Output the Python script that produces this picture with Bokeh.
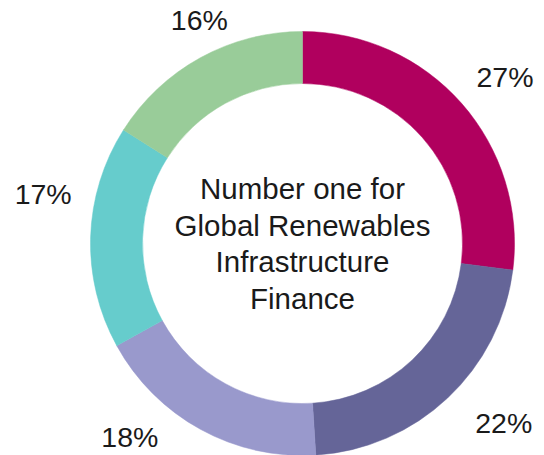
import math
from bokeh.plotting import figure
from bokeh.models import ColumnDataSource, Range1d
from bokeh.core.properties import value
from bokeh.embed import file_html
from bokeh.resources import INLINE

# ---- data ----
shares = [27, 22, 18, 17, 16]
labels = ["27%", "22%", "18%", "17%", "16%"]
colors = ["#B0005E", "#656598", "#9999CC", "#66CCCC", "#99CC99"]
center_text = "Number one for\nGlobal Renewables\nInfrastructure\nFinance"

# ---- layout (units = screen pixels, donut centre at 0,0) ----
R_OUT, R_IN = 212, 160
LABEL_R = 262
label_nudge_deg = [2, -5, 13, 9, 4]   # angular nudge of labels from slice middle
label_r_adj = [0, 8, -3, 2, -16]

W, H = 540, 455
CX, CY = 302, 243          # donut centre in screen pixels
x_range = Range1d(-CX, W - CX)
y_range = Range1d(CY - H, CY)

total = float(sum(shares))
starts, ends, lx, ly = [], [], [], []
cum = 0.0
for i, v in enumerate(shares):
    c0 = cum / total
    cum += v
    c1 = cum / total
    starts.append(math.pi / 2 - 2 * math.pi * c1)
    ends.append(math.pi / 2 - 2 * math.pi * c0)
    mid_deg = 360 * (c0 + c1) / 2 + label_nudge_deg[i]   # clockwise from top
    r = LABEL_R + label_r_adj[i]
    lx.append(r * math.sin(math.radians(mid_deg)))
    ly.append(r * math.cos(math.radians(mid_deg)))

src = ColumnDataSource(dict(start=starts, end=ends, color=colors,
                            lx=lx, ly=ly, label=labels))

p = figure(width=W, height=H, x_range=x_range, y_range=y_range,
           output_backend="svg", toolbar_location=None, min_border=0)
p.axis.visible = False
p.grid.visible = False
p.outline_line_color = None
p.background_fill_color = "white"
p.border_fill_color = "white"

p.annular_wedge(x=0, y=0, inner_radius=R_IN, outer_radius=R_OUT,
                start_angle="start", end_angle="end", direction="anticlock",
                fill_color="color", line_color="color", line_width=0.5,
                source=src)

p.text(x="lx", y="ly", text="label", source=src,
       text_font=value("Liberation Sans"), text_font_size="28.5px",
       text_color="#1a1a1a", text_align="center", text_baseline="middle")

p.text(x=[0], y=[0], text=[center_text],
       text_font=value("Liberation Sans"), text_font_size="29.5px",
       text_color="#1a1a1a", text_align="center", text_baseline="middle",
       text_line_height=1.11)

open("out.html", "w").write(file_html(p, INLINE))
